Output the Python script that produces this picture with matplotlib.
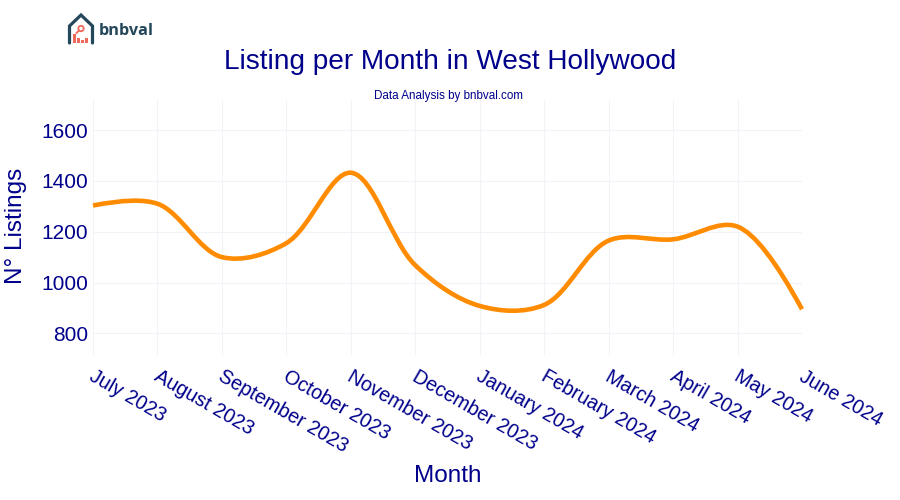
import numpy as np
import matplotlib
matplotlib.use("Agg")
import matplotlib.pyplot as plt
from matplotlib.path import Path
from matplotlib.patches import PathPatch, Rectangle, Circle
from matplotlib.transforms import ScaledTranslation

months = ["July 2023", "August 2023", "September 2023", "October 2023", "November 2023",
          "December 2023", "January 2024", "February 2024", "March 2024", "April 2024",
          "May 2024", "June 2024"]
listings = [1303, 1310, 1100, 1155, 1432, 1068, 908, 912, 1165, 1170, 1220, 895]
yticks = [800, 1000, 1200, 1400, 1600]

BLUE = "#00008B"
ORANGE = "#FF8C00"
GRID = "#F1F3F8"

plt.rcParams["font.family"] = ["Liberation Sans", "DejaVu Sans"]
W, H = 900, 500
fig = plt.figure(figsize=(9, 5), dpi=100, facecolor="white")
L, R, T, B = 93, 802, 100, 355
ax = fig.add_axes([L / W, 1 - B / H, (R - L) / W, (B - T) / H])
x = np.arange(len(months))
ax.set_xlim(0, len(months) - 1)
ax.set_ylim(715, 1718)


def spline_path(xs, ys):
    pts = ax.transData.transform(np.column_stack([xs, ys]))
    s = 1.0
    tang = []
    for i in range(1, len(pts) - 1):
        d1 = pts[i - 1] - pts[i]
        d2 = pts[i + 1] - pts[i]
        a = np.hypot(*d1) ** 0.5
        b = np.hypot(*d2) ** 0.5
        num = (b * b * d1 - a * a * d2) * s
        tang.append((pts[i] + num / (3 * b * (a + b)), pts[i] - num / (3 * a * (a + b))))
    verts = [pts[0], tang[0][0], pts[1]]
    codes = [Path.MOVETO, Path.CURVE3, Path.CURVE3]
    for i in range(1, len(pts) - 2):
        verts += [tang[i - 1][1], tang[i][0], pts[i + 1]]
        codes += [Path.CURVE4] * 3
    verts += [tang[-1][1], pts[-1]]
    codes += [Path.CURVE3] * 2
    return Path(ax.transData.inverted().transform(np.array(verts)), codes)


for sp in ax.spines.values():
    sp.set_visible(False)
ax.grid(True, color=GRID, lw=0.8)
ax.set_axisbelow(True)
ax.tick_params(length=0)
ax.set_yticks(yticks)
ax.set_yticklabels([str(v) for v in yticks], color=BLUE, fontsize=15)
ax.tick_params(axis="y", pad=3.5)
ax.set_xticks(x)
ax.set_xticklabels(months, color=BLUE, fontsize=14.2, rotation=-30,
                   ha="left", va="top", rotation_mode="anchor")
ax.tick_params(axis="x", pad=8.5)
shift = ScaledTranslation(3 / 100, 0, fig.dpi_scale_trans)
for lab in ax.get_xticklabels():
    lab.set_transform(lab.get_transform() + shift)

ax.add_patch(PathPatch(spline_path(x, listings), fc="none", ec=ORANGE, lw=3.3,
                       capstyle="butt", joinstyle="round", clip_on=False, zorder=3))

fig.text(450 / W, 1 - 62 / H, "Listing per Month in West Hollywood", color=BLUE,
         fontsize=20.2, ha="center", va="center")
fig.text(448 / W, 1 - 96 / H, "Data Analysis by bnbval.com", color=BLUE,
         fontsize=8.4, ha="center", va="center")
fig.text(448 / W, 1 - 476.5 / H, "Month", color=BLUE, fontsize=17.5, ha="center", va="center")
fig.text(16 / W, 1 - 226 / H, "N° Listings", color=BLUE, fontsize=17.5, rotation=90,
         ha="center", va="center")

# logo drawn in pixel coordinates
lg = fig.add_axes([0, 0, 1, 1], facecolor="none")
lg.set_xlim(0, W)
lg.set_ylim(H, 0)
lg.axis("off")
lg.plot([69.5, 69.5, 81, 92.5, 92.5], [43, 26, 15, 26, 43], color="#24475A", lw=2.3,
        solid_joinstyle="miter", solid_capstyle="round")
for bx, bh in zip([74.5, 78.5, 82.5, 86.5], [9, 5, 3.5, 5.5]):
    lg.add_patch(Rectangle((bx - 1.2, 43 - bh), 2.6, bh, color="#F0685A", lw=0))
lg.add_patch(Circle((81, 28.5), 2.7, fc="none", ec="#F0685A", lw=1.3))
lg.plot([79, 76.5], [30.5, 33], color="#F0685A", lw=1.3)
lg.text(99, 31, "bnbval", color="#24475A", fontsize=11.7, fontweight="bold",
        family=["Open Sans", "DejaVu Sans"], ha="left", va="center")

fig.savefig("out.png", dpi=100)
